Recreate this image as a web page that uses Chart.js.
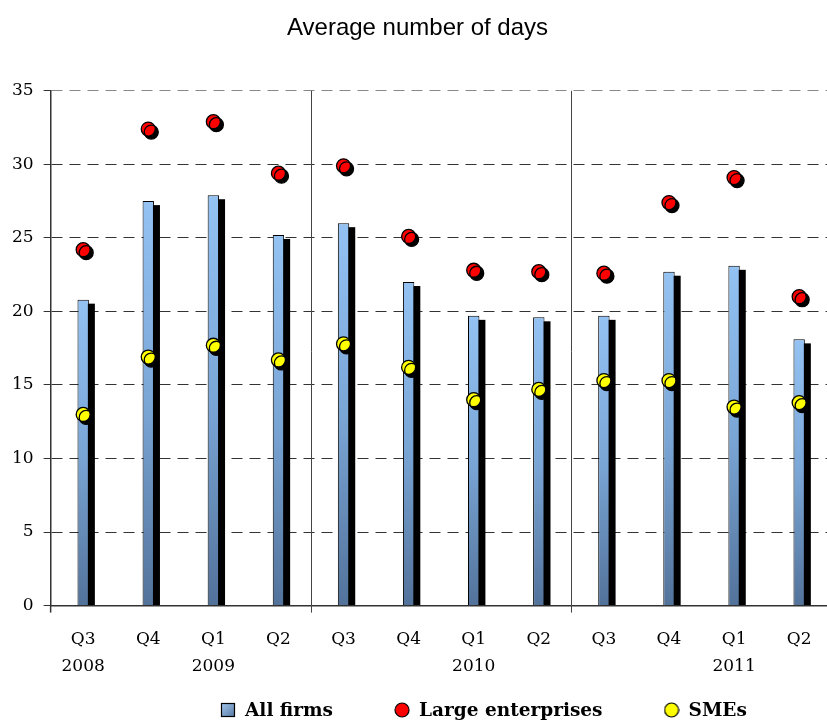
<!DOCTYPE html>
<html>
<head>
<meta charset="utf-8">
<script src="https://cdn.jsdelivr.net/npm/chart.js@4/dist/chart.umd.min.js"></script>
<style>
  html, body { margin: 0; padding: 0; background: #fff; overflow: hidden; }
  #wrap { width: 840px; height: 723px; }
</style>
</head>
<body>
<div id="wrap"><canvas id="chart" width="840" height="723"></canvas></div>
<script>
const quarters = ['Q3', 'Q4', 'Q1', 'Q2', 'Q3', 'Q4', 'Q1', 'Q2', 'Q3', 'Q4', 'Q1', 'Q2'];
const years = ['2008', '', '2009', '', '', '', '2010', '', '', '', '2011', ''];
const allFirms = [20.8, 27.5, 27.9, 25.2, 26.0, 22.0, 19.7, 19.6, 19.7, 22.7, 23.1, 18.1];
const largeEnterprises = [24.2, 32.4, 32.9, 29.4, 29.9, 25.1, 22.8, 22.7, 22.6, 27.4, 29.1, 21.0];
const smes = [13.0, 16.9, 17.7, 16.7, 17.8, 16.2, 14.0, 14.7, 15.3, 15.3, 13.5, 13.8];
const yearBreaks = [3.5, 7.5];

const serif = "'DejaVu Serif', serif";

// per-bar gradient, light at the top of the bar, darker at the base
function barFill(context) {
  const chart = context.chart;
  const y = chart.scales.y;
  if (!y || context.dataIndex === undefined || context.type !== 'data') return '#8dbbec';
  const top = y.getPixelForValue(allFirms[context.dataIndex]);
  const bottom = y.getPixelForValue(0);
  if (!isFinite(top) || !isFinite(bottom) || top === bottom) return '#8dbbec';
  const g = chart.ctx.createLinearGradient(0, top, 0, bottom);
  g.addColorStop(0, '#93c2f3');
  g.addColorStop(0.5, '#7aa6d6');
  g.addColorStop(1, '#52729a');
  return g;
}

function makeIcon(kind) {
  const c = document.createElement('canvas');
  c.width = 16; c.height = 16;
  const x = c.getContext('2d');
  x.lineWidth = 1.2;
  x.strokeStyle = '#000';
  if (kind === 'bar') {
    const g = x.createLinearGradient(0, 0, 16, 16);
    g.addColorStop(0, '#a9d0f7');
    g.addColorStop(1, '#4f7098');
    x.fillStyle = g;
    x.fillRect(1.5, 1.5, 13, 13);
    x.strokeRect(1.5, 1.5, 13, 13);
  } else {
    x.fillStyle = kind;
    x.beginPath();
    x.arc(8, 8, 7, 0, Math.PI * 2);
    x.fill();
    x.stroke();
  }
  return c;
}
const icons = [makeIcon('bar'), makeIcon('#ff0000'), makeIcon('#ffff00')];

const shadows = {
  id: 'shadows',
  beforeDatasetDraw(chart, args) {
    const ctx = chart.ctx;
    ctx.save();
    if (args.meta.type === 'bar') {
      // solid black drop shadow behind each bar
      ctx.fillStyle = '#000';
      args.meta.data.forEach(el => {
        const w = el.width;
        ctx.fillRect(el.x - w / 2 + 6, el.y + 4, w, el.base - el.y - 4);
      });
    } else {
      ctx.shadowColor = '#000';
      ctx.shadowBlur = 0;
      ctx.shadowOffsetX = 3;
      ctx.shadowOffsetY = 3;
    }
  },
  afterDatasetDraw(chart) {
    chart.ctx.restore();
  }
};

const separators = {
  id: 'separators',
  beforeDatasetsDraw(chart) {
    const { ctx, chartArea, scales } = chart;
    ctx.save();
    ctx.strokeStyle = '#444';
    ctx.lineWidth = 1;
    yearBreaks.forEach(v => {
      const x = Math.round(scales.x.getPixelForValue(v)) + 0.5;
      ctx.beginPath();
      ctx.moveTo(x, chartArea.top);
      ctx.lineTo(x, chartArea.bottom + 7);
      ctx.stroke();
    });
    ctx.strokeStyle = '#333';
    ctx.lineWidth = 1.5;
    ctx.beginPath();
    ctx.moveTo(chartArea.left, chartArea.bottom);
    ctx.lineTo(chartArea.left, chartArea.bottom + 7);
    ctx.stroke();
    ctx.restore();
  }
};

// legend drawn by hand so the row can sit where the original has it
const bottomLegend = {
  id: 'bottomLegend',
  afterDraw(chart) {
    const ctx = chart.ctx;
    ctx.save();
    ctx.font = "bold 18.5px " + serif;
    ctx.fillStyle = '#000';
    ctx.textBaseline = 'middle';
    let x = 221;
    const y = 710;
    chart.data.datasets.forEach((ds, i) => {
      ctx.drawImage(icons[i], x - 1, y - 8);
      const tx = x + 24;
      ctx.fillText(ds.label, tx, y + 1);
      x = tx + ctx.measureText(ds.label).width + 62;
    });
    ctx.restore();
  }
};

new Chart(document.getElementById('chart'), {
  type: 'bar',
  data: {
    labels: quarters.map((q, i) => [q, years[i]]),
    datasets: [
      {
        label: 'All firms',
        data: allFirms,
        backgroundColor: barFill,
        borderColor: '#000',
        borderWidth: 1,
        barPercentage: 0.175,
        categoryPercentage: 1,
        order: 2
      },
      {
        type: 'line',
        label: 'Large enterprises',
        data: largeEnterprises,
        showLine: false,
        pointRadius: 7,
        pointHoverRadius: 7,
        pointBackgroundColor: '#ff0000',
        pointBorderColor: '#000',
        pointBorderWidth: 1.3,
        order: 1
      },
      {
        type: 'line',
        label: 'SMEs',
        data: smes,
        showLine: false,
        pointRadius: 7,
        pointHoverRadius: 7,
        pointBackgroundColor: '#ffff00',
        pointBorderColor: '#000',
        pointBorderWidth: 1.3,
        order: 0
      }
    ]
  },
  options: {
    responsive: false,
    animation: false,
    devicePixelRatio: 1,
    layout: { padding: { left: 2, right: 7, top: 0, bottom: 31 } },
    scales: {
      x: {
        grid: { display: false },
        border: { display: true, color: '#333', width: 1.5 },
        ticks: {
          color: '#000',
          padding: 12,
          maxRotation: 0,
          autoSkip: false,
          font: { family: serif, size: 17, lineHeight: 1.6 }
        }
      },
      y: {
        min: 0,
        max: 35,
        ticks: {
          stepSize: 5,
          color: '#000',
          padding: 10,
          font: { family: serif, size: 17 }
        },
        grid: {
          color: ctx => ctx.tick && ctx.tick.value === 35 ? '#888' : '#333',
          lineWidth: 1,
          tickLength: 7,
          tickColor: '#333'
        },
        border: { display: true, color: '#333', width: 1.5, dash: [11, 7] }
      }
    },
    plugins: {
      title: {
        display: true,
        text: 'Average number of days',
        color: '#000',
        font: { family: "'Liberation Sans', Arial, sans-serif", size: 24, weight: 'normal' },
        padding: { top: 14, bottom: 48 }
      },
      legend: { display: false },
      tooltip: { enabled: false }
    }
  },
  plugins: [shadows, separators, bottomLegend]
});
</script>
</body>
</html>
